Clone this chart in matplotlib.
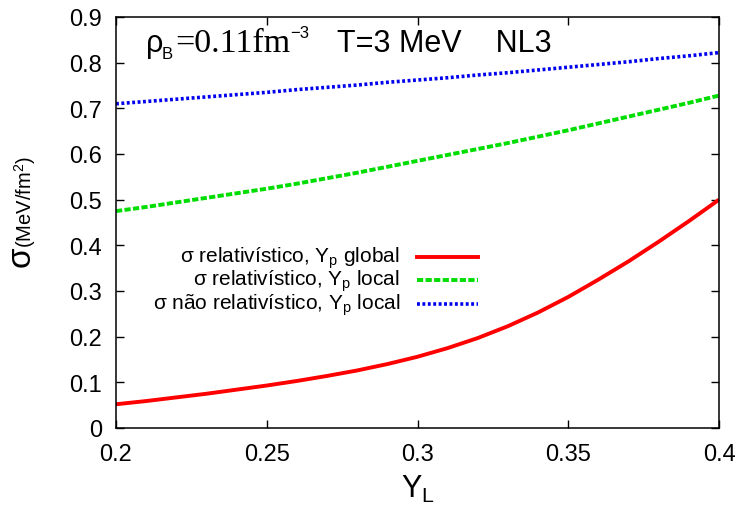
import matplotlib
matplotlib.use("Agg")
import matplotlib.pyplot as plt
import numpy as np

plt.rcParams['font.family'] = ['Liberation Sans', 'DejaVu Sans']
plt.rcParams['mathtext.fontset'] = 'custom'
plt.rcParams['mathtext.rm'] = 'Liberation Sans'
plt.rcParams['mathtext.it'] = 'Liberation Sans'

# data
yl = [0.20, 0.21, 0.22, 0.23, 0.24, 0.25, 0.26, 0.27, 0.28, 0.29, 0.30,
      0.31, 0.32, 0.33, 0.34, 0.35, 0.36, 0.37, 0.38, 0.39, 0.40]
sigma_rel_global = [0.052, 0.059, 0.067, 0.075, 0.084, 0.093, 0.103, 0.114, 0.126, 0.140, 0.156,
                    0.175, 0.197, 0.223, 0.253, 0.287, 0.325, 0.365, 0.408, 0.453, 0.500]
sigma_rel_local = [0.475, 0.484, 0.494, 0.504, 0.514, 0.524, 0.535, 0.547, 0.559, 0.572, 0.585,
                   0.598, 0.611, 0.624, 0.638, 0.652, 0.667, 0.682, 0.697, 0.712, 0.728]
sigma_nrel_local = [0.710, 0.715, 0.720, 0.725, 0.730, 0.735, 0.741, 0.746, 0.751, 0.757, 0.762,
                    0.767, 0.773, 0.778, 0.784, 0.790, 0.796, 0.802, 0.809, 0.815, 0.822]

labels = [r"σ relativístico, Y$_\mathregular{p}$ global",
          r"σ relativístico, Y$_\mathregular{p}$ local",
          r"σ não relativístico, Y$_\mathregular{p}$ local"]
styles = [dict(color='#ff0000', lw=2.8, ls='-'),
          dict(color='#00dd00', lw=2.8, ls=(0, (1.6, 0.6))),
          dict(color='#0000ee', lw=2.6, ls=(0, (0.8, 0.7)))]

fig = plt.figure(figsize=(7.41, 5.06), dpi=100)
ax = fig.add_axes([116/741, 1 - 429/506, (719-116)/741, (429-18)/506])

for ys, st in zip([sigma_rel_global, sigma_rel_local, sigma_nrel_local], styles):
    ax.plot(yl, ys, solid_capstyle='butt', **st)

ax.set_xlim(0.2, 0.4)
ax.set_ylim(0, 0.9)
ax.set_xticks([0.2, 0.25, 0.3, 0.35, 0.4])
ax.set_xticklabels(['0.2', '0.25', '0.3', '0.35', '0.4'])
ax.set_yticks(np.arange(0, 0.91, 0.1))
ax.set_yticklabels(['0', '0.1', '0.2', '0.3', '0.4', '0.5', '0.6', '0.7', '0.8', '0.9'])
ax.tick_params(direction='in', top=True, right=True, length=6, width=1, labelsize=17)
ax.tick_params(axis='x', pad=11)
ax.tick_params(axis='y', pad=10)
for s in ax.spines.values():
    s.set_linewidth(1.1)

# legend: text right-aligned, sample line after it
for i, (lab, st) in enumerate(zip(labels, styles)):
    yy = 0.416 - i * 0.057
    ax.text(0.471, yy, lab, transform=ax.transAxes, ha='right', va='center', fontsize=15)
    ax.plot([0.499, 0.600], [yy, yy], transform=ax.transAxes, **st)

# header
ax.text(0.0498, 0.917, "ρ", transform=ax.transAxes, fontsize=22, va='baseline')
ax.text(0.0763, 0.900, "B", transform=ax.transAxes, fontsize=12, va='baseline')
ax.text(0.0978, 0.917, "=0.11fm", transform=ax.transAxes, fontsize=24.5, va='baseline',
        family='Liberation Serif')
ax.text(0.2895, 0.952, "−3", transform=ax.transAxes, fontsize=12, va='baseline')
ax.text(0.3665, 0.917, "T=3 MeV    NL3", transform=ax.transAxes, fontsize=22, va='baseline')

fig.text(21/741, 1 - 257/506, "σ", rotation=90, fontsize=24, va='center', ha='center')
fig.text(25/741, 1 - 202/506, r"(MeV/fm$^\mathregular{2}$)", rotation=90, fontsize=14.5,
         va='center', ha='center')
fig.text(418/741, 1 - 489/506, r"Y$_\mathregular{L}$", fontsize=22, ha='center', va='center')

fig.savefig("out.png", dpi=100)
